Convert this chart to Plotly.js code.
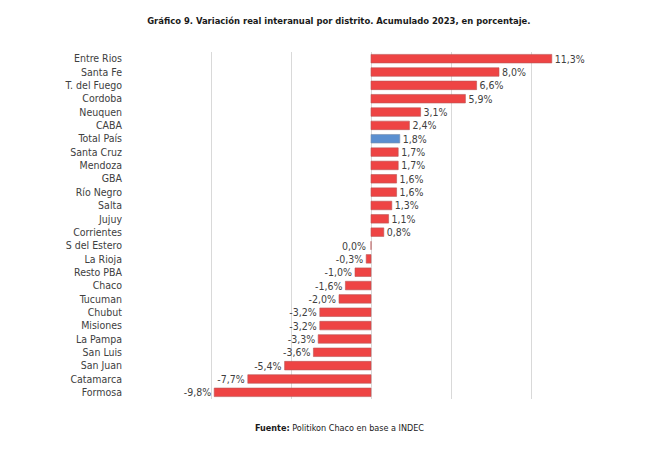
<!DOCTYPE html>
<html>
<head>
<meta charset="utf-8">
<script src="https://cdn.plot.ly/plotly-3.0.1.min.js"></script>
<style>html,body{margin:0;padding:0;background:#fff;}#chart{width:667px;height:456px;}</style>
</head>
<body>
<div id="chart"></div>
<script>
const districts = ["Entre Rios","Santa Fe","T. del Fuego","Cordoba","Neuquen","CABA","Total País","Santa Cruz","Mendoza","GBA","Río Negro","Salta","Jujuy","Corrientes","S del Estero","La Rioja","Resto PBA","Chaco","Tucuman","Chubut","Misiones","La Pampa","San Luis","San Juan","Catamarca","Formosa"];
const values = [11.3,8.0,6.6,5.9,3.1,2.4,1.8,1.7,1.7,1.6,1.6,1.3,1.1,0.8,0.0,-0.3,-1.0,-1.6,-2.0,-3.2,-3.2,-3.3,-3.6,-5.4,-7.7,-9.8];
const highlight = "Total País";
const xTicks = [-15,-10,-5,0,5,10,15];

const FONT = "'DejaVu Sans Condensed','Liberation Sans Narrow',sans-serif";
const fmt = v => v.toFixed(1).replace(".", ",") + "%";
const colors = districts.map(d => d === highlight ? "#5B8FD0" : "#EE4444");
const linecolors = districts.map(d => d === highlight ? "#7a8fa8" : "#b85555");

const trace = {
  type: "bar",
  orientation: "h",
  y: districts,
  x: values,
  marker: {color: colors, line: {color: linecolors, width: 0.6}},
  text: values.map(v => v === 0 ? "" : fmt(v)),
  texttemplate: "%{text}",
  textposition: "outside",
  constraintext: "none",
  cliponaxis: false,
  textfont: {family: FONT, size: 10.5, color: "#404040"},
  hoverinfo: "skip"
};

const zeroAnns = districts.map((d, i) => ({d, v: values[i]})).filter(o => o.v === 0).map(o => ({
  x: o.v, y: o.d, xref: "x", yref: "y",
  text: fmt(o.v), showarrow: false, xanchor: "right", yanchor: "middle", xshift: -3,
  font: {family: FONT, size: 10.5, color: "#404040"}
}));

const layout = {
  width: 667, height: 456,
  margin: {l: 131, r: 56, t: 52, b: 57},
  paper_bgcolor: "#ffffff", plot_bgcolor: "#ffffff",
  separators: ",.",
  bargap: 0.36,
  showlegend: false,
  title: {
    text: "<b>Gráfico 9. Variación real interanual por distrito. Acumulado 2023, en porcentaje.</b>",
    font: {family: FONT, size: 9.4, color: "#1a1a1a"},
    x: 0.508, xanchor: "center", xref: "container",
    y: 0.954, yanchor: "middle", yref: "container"
  },
  xaxis: {
    range: [-15, 15],
    tickvals: xTicks,
    showticklabels: false,
    showgrid: true, gridcolor: "#d9d9d9", gridwidth: 1,
    zeroline: true, zerolinecolor: "#d9d9d9", zerolinewidth: 1,
    showline: false, fixedrange: true
  },
  yaxis: {
    categoryorder: "array", categoryarray: districts,
    autorange: "reversed",
    tickfont: {family: FONT, size: 10.5, color: "#404040"},
    ticks: "", ticklabelstandoff: 8,
    showgrid: false, zeroline: false, showline: false, fixedrange: true
  },
  annotations: zeroAnns.concat([{
    text: "<b>Fuente:</b> Politikon Chaco en base a INDEC",
    xref: "paper", yref: "paper",
    x: 0.435, y: -0.0836, xanchor: "center", yanchor: "middle",
    showarrow: false,
    font: {family: FONT, size: 9, color: "#1a1a1a"}
  }])
};

Plotly.newPlot("chart", [trace], layout, {displayModeBar: false, staticPlot: true});
</script>
</body>
</html>
